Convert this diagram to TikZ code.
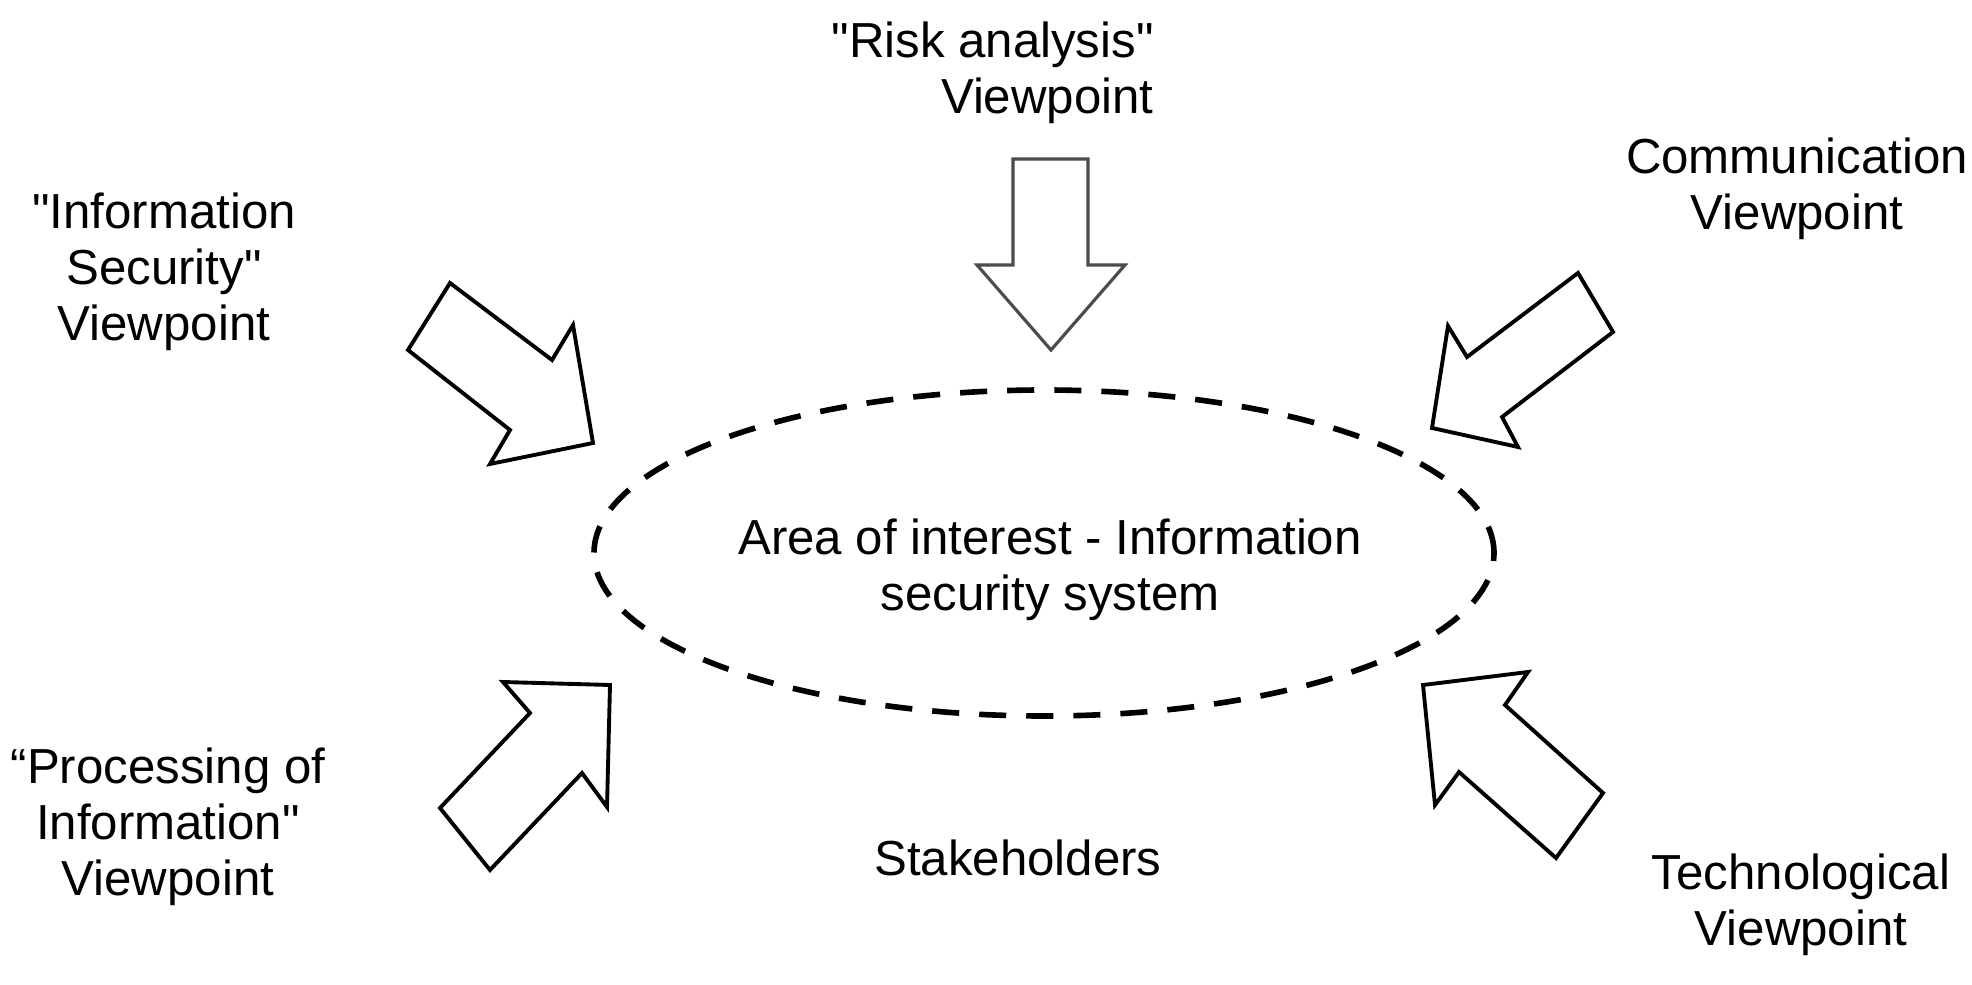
\documentclass[tikz,border=0pt]{standalone}
\usepackage{fontspec}
\setmainfont{Liberation Sans}[Ligatures=TeXOff]
\usepackage{tikz}
\usetikzlibrary{shapes.geometric}

\begin{document}
\begin{tikzpicture}[auto,
    view/.style={align=center, font=\fontsize{14}{16}\selectfont},
    area/.style={draw, ellipse, line width=1.6pt, dash pattern=on 7.7pt off 5.7pt,
      minimum width=9cm, minimum height=3.26cm, inner sep=0pt},
    blockarrow/.style={draw=black, line width=1.1pt, line join=miter, fill=white}]
    \useasboundingbox (0,0) rectangle (19.72,9.84);
    \node (is) [view] at (1.64, 7.12) {"Information\\ Security"\\ Viewpoint};
    \node (ra) [view, align=right, anchor=east] at (11.66, 9.11) {"Risk analysis"\\ Viewpoint};
    \node (co) [view] at (17.97, 7.95) {Communication\\ Viewpoint};
    \node (pi) [view] at (1.68, 1.57) {“Processing of\\ Information"\\ Viewpoint};
    \node (te) [view] at (18.01, 0.79) {Technological\\ Viewpoint};
    \node (st) [view] at (10.18, 1.26) {Stakeholders};
    \node (ai) [area] at (10.44, 4.31) {};
    \node (ar) [view] at (10.50, 4.14) {Area of interest - Information\\ security system};
    %\draw (is) to (ai);
    \draw [blockarrow] (4.50,7.01) -- (5.52,6.24) -- (5.73,6.59) -- (5.93,5.41)
        -- (4.90,5.20) -- (5.10,5.54) -- (4.08,6.34) -- cycle;
    \draw [blockarrow, draw=black!70, line width=0.9pt] (10.13,8.25) -- (10.88,8.25) -- (10.88,7.19)
        -- (11.25,7.19) -- (10.51,6.34) -- (9.77,7.19) -- (10.13,7.19) -- cycle;
    \draw [blockarrow] (15.78,7.11) -- (16.13,6.52) -- (15.02,5.67) -- (15.18,5.37)
        -- (14.32,5.56) -- (14.48,6.58) -- (14.67,6.27) -- cycle;
    \draw [blockarrow] (4.40,1.76) -- (5.30,2.71) -- (5.03,3.02) -- (6.10,2.99)
        -- (6.07,1.77) -- (5.82,2.11) -- (4.90,1.14) -- cycle;
    \draw [blockarrow] (16.03,1.91) -- (15.05,2.79) -- (15.28,3.12) -- (14.23,2.99)
        -- (14.35,1.79) -- (14.59,2.12) -- (15.56,1.26) -- cycle;
\end{tikzpicture}
\end{document}
